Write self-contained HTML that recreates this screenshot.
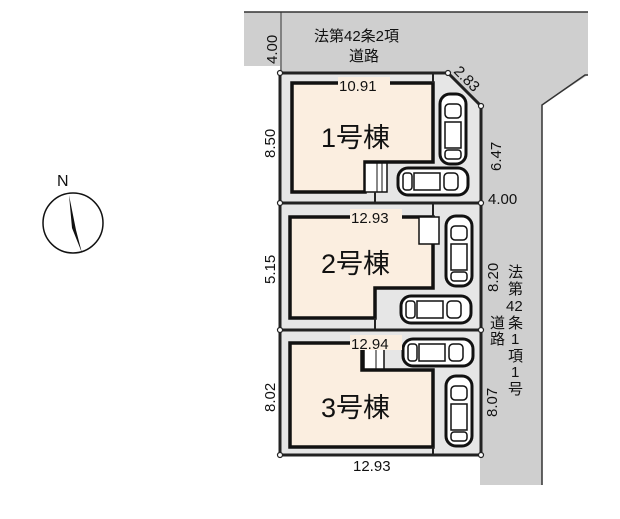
<!DOCTYPE html>
<html><head><meta charset="utf-8"><style>
html,body{margin:0;padding:0;background:#fff;width:620px;height:519px;overflow:hidden}
svg{display:block}
text{font-family:"Liberation Sans","Noto Sans CJK JP",sans-serif;fill:#111}
</style></head><body>
<svg width="620" height="519" viewBox="0 0 620 519">
<defs>
<g id="carv">
<rect x="0" y="0" width="26" height="70" rx="10" fill="#fff" stroke="#111" stroke-width="3"/>
<rect x="5" y="10" width="16" height="14" rx="4" fill="none" stroke="#111" stroke-width="1.5"/>
<rect x="5" y="28" width="16" height="26" fill="none" stroke="#111" stroke-width="1.5"/>
<rect x="5" y="56" width="16" height="9" rx="3" fill="none" stroke="#111" stroke-width="1.5"/>
</g>
<g id="carh">
<rect x="0" y="0" width="70" height="27" rx="10" fill="#fff" stroke="#111" stroke-width="3"/>
<rect x="5" y="5" width="9" height="17" rx="3" fill="none" stroke="#111" stroke-width="1.5"/>
<rect x="16" y="5" width="26" height="17" fill="none" stroke="#111" stroke-width="1.5"/>
<rect x="46" y="5" width="14" height="17" rx="4" fill="none" stroke="#111" stroke-width="1.5"/>
</g>
</defs>
<polygon points="244,12 588,12 588,75 542,105 542,485 480,485 480,106 448,73 280,73 280,66 244,66" fill="#cfcfcf"/>
<polyline points="244,12 588,12" stroke="#333" stroke-width="1.5" fill="none"/>
<polyline points="588,75 585,75 542,105 542,485" stroke="#333" stroke-width="1.5" fill="none"/>
<line x1="281" y1="12" x2="281" y2="73" stroke="#333" stroke-width="1"/>
<polygon points="280,73 448,73 481,106 481,455 280,455" fill="#e6e6e6"/>
<polygon points="292,83 433,83 433,162 365,162 365,192 292,192" fill="#fbeee0" stroke="#111" stroke-width="3.5"/>
<rect x="365" y="163" width="22" height="29" fill="#fff" stroke="#111" stroke-width="1.5"/>
<line x1="377" y1="163" x2="377" y2="192" stroke="#111" stroke-width="1"/>
<line x1="382" y1="163" x2="382" y2="192" stroke="#111" stroke-width="1"/>
<polygon points="290,217 433,217 433,288 375,288 375,318 290,318" fill="#fbeee0" stroke="#111" stroke-width="3.5"/>
<rect x="419" y="217" width="20" height="27" fill="#fff" stroke="#111" stroke-width="1.5"/>
<polygon points="290,343 362,343 362,370 433,370 433,447 290,447" fill="#fbeee0" stroke="#111" stroke-width="3.5"/>
<rect x="364" y="345" width="20" height="24" fill="#fff" stroke="#111" stroke-width="1.5"/>
<line x1="376" y1="345" x2="376" y2="369" stroke="#111" stroke-width="1"/>
<polygon points="280,73 448,73 481,106 481,455 280,455" fill="none" stroke="#222" stroke-width="3"/>
<line x1="280" y1="203" x2="481" y2="203" stroke="#222" stroke-width="3"/>
<line x1="280" y1="330" x2="481" y2="330" stroke="#222" stroke-width="3"/>
<line x1="433" y1="73" x2="433" y2="83" stroke="#222" stroke-width="2"/>
<line x1="375" y1="192" x2="375" y2="203" stroke="#222" stroke-width="2"/>
<line x1="433" y1="203" x2="433" y2="217" stroke="#222" stroke-width="2"/>
<line x1="375" y1="318" x2="375" y2="330" stroke="#222" stroke-width="2"/>
<line x1="433" y1="447" x2="433" y2="455" stroke="#222" stroke-width="2"/>
<g fill="#fff" stroke="#222" stroke-width="1.2">
<circle cx="280" cy="73" r="2.5"/><circle cx="448" cy="73" r="2.5"/><circle cx="481" cy="106" r="2.5"/>
<circle cx="280" cy="203" r="2.5"/><circle cx="481" cy="203" r="2.5"/>
<circle cx="280" cy="330" r="2.5"/><circle cx="481" cy="330" r="2.5"/>
<circle cx="280" cy="455" r="2.5"/><circle cx="481" cy="455" r="2.5"/>
</g>
<use href="#carv" x="440" y="94"/>
<use href="#carh" x="398" y="168"/>
<use href="#carv" x="446" y="216"/>
<use href="#carh" x="401" y="296"/>
<use href="#carh" x="403" y="339"/>
<use href="#carv" x="446" y="376"/>
<text x="321" y="147" font-size="27">1号棟</text>
<text x="321" y="273" font-size="27">2号棟</text>
<text x="321" y="417" font-size="27">3号棟</text>
<rect x="338" y="77" width="52" height="15" fill="#fbeee0"/>
<text x="339" y="91" font-size="15">10.91</text>
<rect x="350" y="209" width="52" height="15" fill="#fbeee0"/>
<text x="351" y="223" font-size="15">12.93</text>
<rect x="350" y="335" width="52" height="15" fill="#fbeee0"/>
<text x="351" y="349" font-size="15">12.94</text>
<text x="353" y="471" font-size="15">12.93</text>
<text x="314" y="41" font-size="15">法第42条2項</text>
<text x="349" y="61" font-size="15">道路</text>
<text x="488" y="204" font-size="15">4.00</text>
<text font-size="15" transform="translate(277,64) rotate(-90)">4.00</text>
<text font-size="15" transform="translate(275,158) rotate(-90)">8.50</text>
<text font-size="15" transform="translate(275,284) rotate(-90)">5.15</text>
<text font-size="15" transform="translate(275,412) rotate(-90)">8.02</text>
<text font-size="15" transform="translate(501,171) rotate(-90)">6.47</text>
<text font-size="15" transform="translate(498,292) rotate(-90)">8.20</text>
<text font-size="15" transform="translate(497,417) rotate(-90)">8.07</text>
<text font-size="15" transform="translate(453,72) rotate(45)">2.83</text>
<g font-size="15">
<text x="508" y="277">法</text><text x="508" y="294">第</text><text x="506" y="311">42</text>
<text x="508" y="328">条</text><text x="511" y="344">1</text><text x="508" y="361">項</text>
<text x="511" y="377">1</text><text x="508" y="394">号</text>
<text x="490" y="328">道</text><text x="490" y="344">路</text>
</g>
<circle cx="73" cy="223" r="30" fill="none" stroke="#111" stroke-width="1.5"/>
<text x="57" y="186" font-size="16">N</text>
<polygon points="69,195 76,230 82,253 72,228" fill="#111"/>
</svg>
</body></html>
